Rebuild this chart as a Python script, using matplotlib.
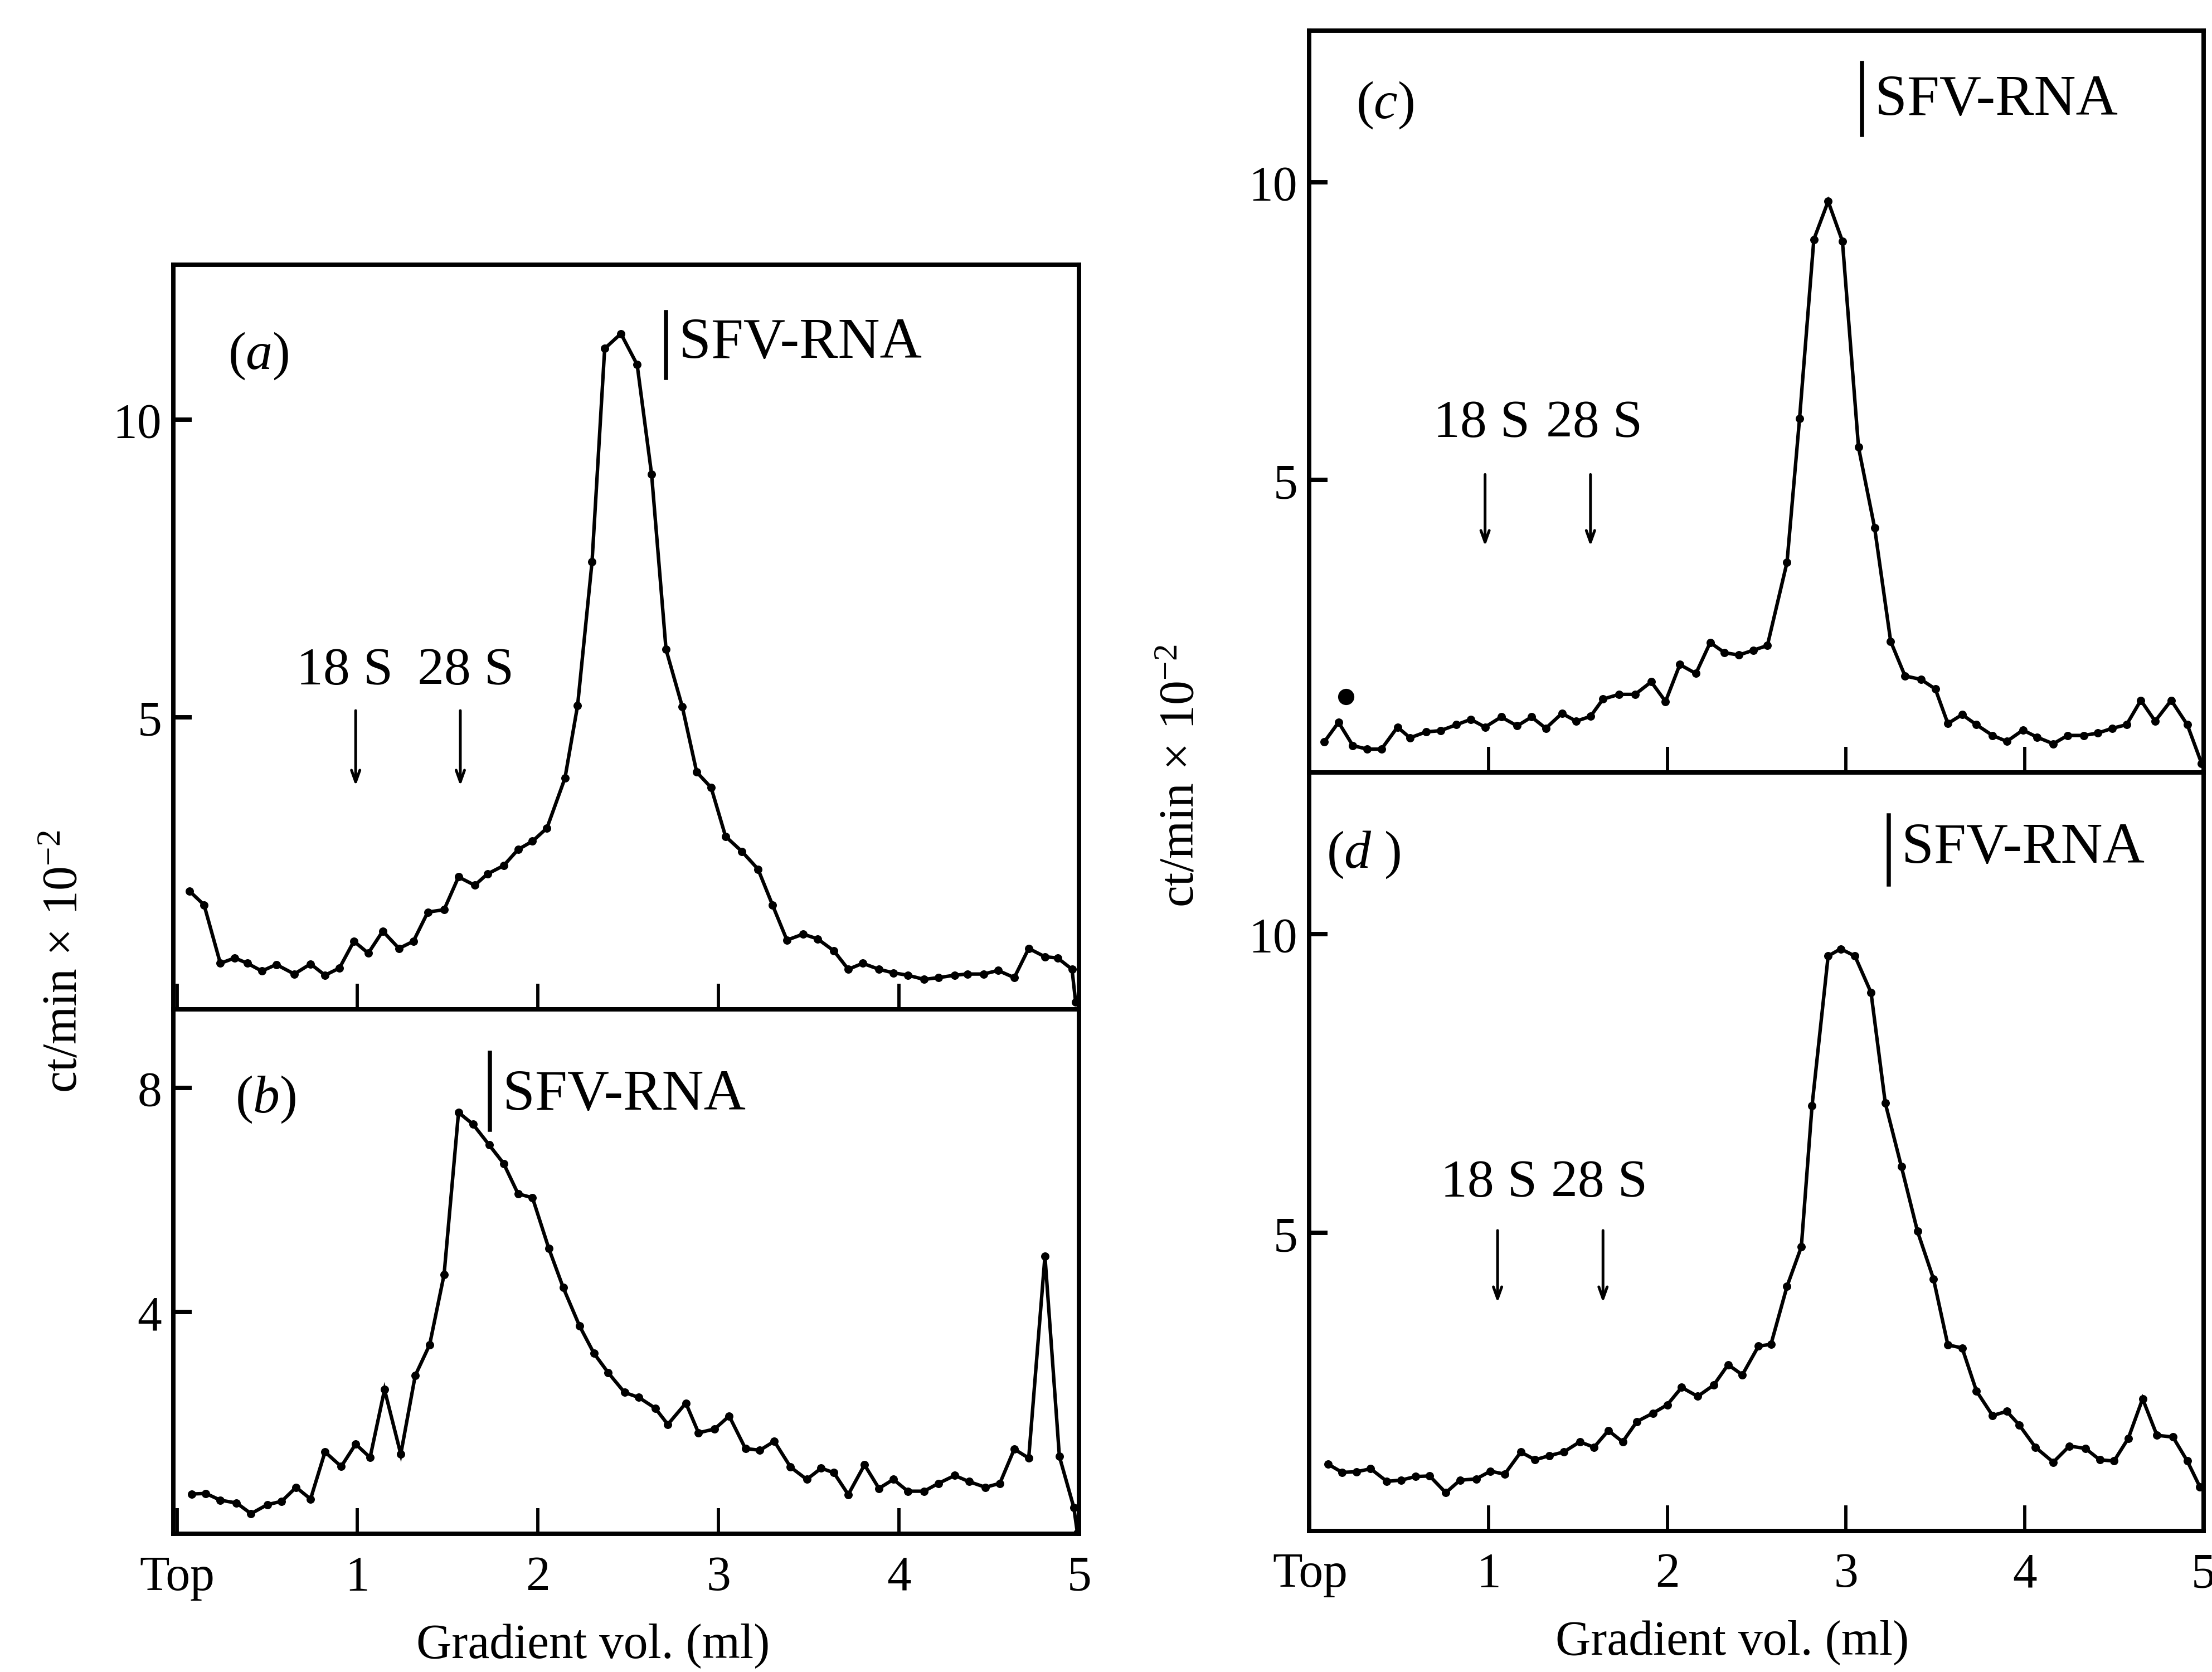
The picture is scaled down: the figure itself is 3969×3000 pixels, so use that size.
import matplotlib
matplotlib.use("Agg")
import matplotlib.pyplot as plt

plt.rcParams['font.family'] = ['Liberation Serif', 'DejaVu Serif']
plt.rcParams['mathtext.fontset'] = 'custom'
plt.rcParams['mathtext.rm'] = 'Liberation Serif'
plt.rcParams['mathtext.it'] = 'Liberation Serif:italic'

# ---------------- data ----------------
xa = [0.07, 0.15, 0.24, 0.32, 0.39, 0.47, 0.55, 0.65, 0.74, 0.82, 0.90, 0.98, 1.06, 1.14,
      1.23, 1.31, 1.39, 1.48, 1.56, 1.65, 1.72, 1.81, 1.89, 1.97, 2.05, 2.15, 2.22, 2.30,
      2.37, 2.46, 2.55, 2.63, 2.71, 2.80, 2.88, 2.96, 3.04, 3.13, 3.22, 3.30, 3.38, 3.47,
      3.55, 3.64, 3.72, 3.80, 3.89, 3.97, 4.05, 4.14, 4.22, 4.31, 4.38, 4.47, 4.55, 4.64,
      4.72, 4.81, 4.88, 4.96, 4.98]
ya = [2.08, 1.85, 0.87, 0.96, 0.87, 0.74, 0.85, 0.69, 0.86, 0.67, 0.79, 1.24, 1.04, 1.41,
      1.12, 1.24, 1.73, 1.77, 2.32, 2.18, 2.37, 2.51, 2.78, 2.92, 3.14, 3.98, 5.20, 7.61,
      11.19, 11.44, 10.92, 9.08, 6.14, 5.18, 4.08, 3.82, 3.00, 2.75, 2.45, 1.85, 1.26, 1.36,
      1.28, 1.08, 0.77, 0.87, 0.77, 0.71, 0.67, 0.60, 0.63, 0.67, 0.69, 0.69, 0.75, 0.63,
      1.12, 0.98, 0.96, 0.77, 0.22]

xb = [0.08, 0.16, 0.24, 0.33, 0.41, 0.50, 0.58, 0.66, 0.74, 0.82, 0.91, 0.99, 1.07, 1.15,
      1.24, 1.32, 1.40, 1.48, 1.56, 1.64, 1.73, 1.81, 1.89, 1.97, 2.06, 2.14, 2.23, 2.31,
      2.39, 2.48, 2.56, 2.65, 2.72, 2.82, 2.89, 2.98, 3.06, 3.15, 3.23, 3.31, 3.40, 3.49,
      3.57, 3.64, 3.72, 3.81, 3.89, 3.97, 4.05, 4.14, 4.22, 4.31, 4.39, 4.48, 4.56, 4.64,
      4.72, 4.81, 4.89, 4.97, 4.99]
yb = [0.76, 0.77, 0.65, 0.60, 0.41, 0.57, 0.63, 0.88, 0.67, 1.51, 1.25, 1.65, 1.41, 2.62,
      1.47, 2.87, 3.42, 4.67, 7.56, 7.35, 6.98, 6.65, 6.11, 6.04, 5.14, 4.44, 3.76, 3.27,
      2.92, 2.57, 2.48, 2.29, 2.00, 2.38, 1.85, 1.92, 2.15, 1.57, 1.54, 1.70, 1.24, 1.02,
      1.22, 1.14, 0.75, 1.28, 0.86, 1.02, 0.81, 0.81, 0.95, 1.09, 0.98, 0.88, 0.95, 1.56,
      1.40, 5.00, 1.43, 0.52, 0.06]

xc = [0.08, 0.16, 0.24, 0.32, 0.40, 0.49, 0.56, 0.65, 0.73, 0.82, 0.90, 0.98, 1.07, 1.16,
      1.24, 1.32, 1.41, 1.49, 1.57, 1.64, 1.73, 1.82, 1.91, 1.99, 2.07, 2.16, 2.24, 2.32,
      2.40, 2.48, 2.56, 2.67, 2.74, 2.82, 2.90, 2.98, 3.07, 3.16, 3.25, 3.33, 3.42, 3.50,
      3.57, 3.65, 3.73, 3.82, 3.90, 3.99, 4.07, 4.16, 4.24, 4.33, 4.41, 4.49, 4.57, 4.65,
      4.73, 4.82, 4.91, 4.99]
yc = [0.60, 0.93, 0.54, 0.48, 0.48, 0.85, 0.67, 0.77, 0.79, 0.89, 0.98, 0.85, 1.02, 0.87,
      1.02, 0.83, 1.08, 0.95, 1.03, 1.32, 1.40, 1.40, 1.61, 1.28, 1.90, 1.75, 2.27, 2.10,
      2.06, 2.14, 2.22, 3.62, 6.03, 9.04, 9.68, 9.01, 5.55, 4.20, 2.29, 1.71, 1.65, 1.49,
      0.91, 1.06, 0.89, 0.71, 0.61, 0.80, 0.68, 0.57, 0.71, 0.71, 0.75, 0.83, 0.89, 1.30,
      0.95, 1.30, 0.89, 0.24]
xc_dot = [0.20]
yc_dot = [1.36]

xd = [0.10, 0.18, 0.26, 0.34, 0.43, 0.51, 0.59, 0.67, 0.76, 0.84, 0.93, 1.01, 1.09, 1.18,
      1.26, 1.34, 1.42, 1.51, 1.59, 1.67, 1.75, 1.83, 1.92, 2.00, 2.08, 2.17, 2.26, 2.34,
      2.42, 2.51, 2.58, 2.67, 2.75, 2.81, 2.90, 2.97, 3.05, 3.14, 3.22, 3.31, 3.40, 3.49,
      3.57, 3.65, 3.73, 3.82, 3.90, 3.97, 4.06, 4.16, 4.25, 4.34, 4.42, 4.50, 4.58, 4.66,
      4.74, 4.83, 4.91, 4.98]
yd = [1.14, 1.00, 1.01, 1.06, 0.85, 0.87, 0.93, 0.94, 0.66, 0.87, 0.89, 1.02, 0.97, 1.34,
      1.21, 1.28, 1.34, 1.51, 1.42, 1.70, 1.51, 1.85, 1.99, 2.13, 2.42, 2.27, 2.46, 2.80,
      2.63, 3.11, 3.14, 4.11, 4.77, 7.13, 9.63, 9.75, 9.63, 9.02, 7.17, 6.11, 5.03, 4.23,
      3.13, 3.08, 2.36, 1.95, 2.02, 1.79, 1.42, 1.17, 1.44, 1.40, 1.21, 1.19, 1.57, 2.23,
      1.62, 1.59, 1.19, 0.76]

xtick_vals = [0, 1, 2, 3, 4, 5]
xtick_labels = ['Top', '1', '2', '3', '4', '5']

# ---------------- figure ----------------
fig = plt.figure(figsize=(13.23, 10.003), dpi=300)
fig.patch.set_facecolor('white')

ax_a = fig.add_axes([0.0784, 0.3963, 0.4095, 0.4452])
ax_b = fig.add_axes([0.0784, 0.0826, 0.4095, 0.3137])
ax_c = fig.add_axes([0.5918, 0.5379, 0.4043, 0.4436])
ax_d = fig.add_axes([0.5918, 0.0843, 0.4043, 0.4536])

TICK_FS = 21
ANN_FS = 23
SFV_FS = 25
LW = 1.5

def style(ax, xlim, ylim, yticks, show_xlabels):
    ax.set_xlim(*xlim)
    ax.set_ylim(*ylim)
    for s in ax.spines.values():
        s.set_linewidth(1.9)
        s.set_color('black')
    ax.set_yticks(yticks)
    ax.set_yticklabels([str(v) for v in yticks], fontsize=TICK_FS)
    ax.set_xticks(xtick_vals)
    if show_xlabels:
        ax.set_xticklabels(xtick_labels, fontsize=TICK_FS)
    else:
        ax.set_xticklabels([])
    ax.tick_params(axis='y', direction='in', length=8, width=1.9, pad=5)
    ax.tick_params(axis='x', direction='in', length=11, width=1.4, pad=9)

def curve(ax, x, y):
    ax.plot(x, y, color='black', lw=LW, marker='o', markersize=3.6,
            markerfacecolor='black', markeredgewidth=0, solid_joinstyle='miter')

def sfv(ax, xbar, y0, y1, ytext):
    ax.plot([xbar, xbar], [y0, y1], color='black', lw=1.8)
    ax.text(xbar + 0.07, ytext, 'SFV-RNA', fontsize=SFV_FS, va='center', ha='left')

def markers(ax, x18, x28, ytext, yarr0, yarr1, xa18, xa28):
    ax.text(x18, ytext, '18 S', fontsize=ANN_FS, ha='center', va='center')
    ax.text(x28, ytext, '28 S', fontsize=ANN_FS, ha='center', va='center')
    for xx in (xa18, xa28):
        ax.annotate('', xy=(xx, yarr1), xytext=(xx, yarr0),
                    arrowprops=dict(arrowstyle='->,head_length=0.5,head_width=0.18',
                                    color='black', lw=1.2))

# (a)
curve(ax_a, xa, ya)
style(ax_a, (-0.02, 5.0), (0.1, 12.6), [5, 10], False)
ax_a.text(0.45, 11.07, r'($\mathit{a}$)', fontsize=ANN_FS, ha='center', va='center')
sfv(ax_a, 2.71, 10.7, 11.8, 11.28)
markers(ax_a, 0.93, 1.60, 5.78, 5.19, 3.77, 0.99, 1.57)

# (b)
curve(ax_b, xb, yb)
style(ax_b, (-0.02, 5.0), (0.05, 9.4), [4, 8], True)
ax_b.text(0.49, 7.8, r'($\mathit{b}$)', fontsize=ANN_FS, ha='center', va='center')
sfv(ax_b, 1.735, 7.25, 8.62, 7.87)

# (c)
curve(ax_c, xc, yc)
ax_c.plot(xc_dot, yc_dot, 'o', color='black', markersize=6)
style(ax_c, (-0.005, 5.0), (0.09, 12.55), [5, 10], False)
ax_c.text(0.42, 11.3, r'($\mathit{c}$)', fontsize=ANN_FS, ha='center', va='center')
sfv(ax_c, 3.09, 10.8, 12.0, 11.38)
markers(ax_c, 0.96, 1.59, 5.95, 5.17, 3.81, 0.98, 1.57)

# (d)
curve(ax_d, xd, yd)
style(ax_d, (-0.005, 5.0), (0.02, 12.7), [5, 10], True)
ax_d.text(0.30, 11.33, r'($\mathit{d}$ )', fontsize=ANN_FS, ha='center', va='center')
sfv(ax_d, 3.24, 10.83, 11.98, 11.43)
markers(ax_d, 1.00, 1.62, 5.83, 5.12, 3.76, 1.05, 1.64)

# axis titles
ylab = r'ct/min$\,\times\,$10$^{-2}$'
fig.text(0.029, 0.425, ylab, rotation=90, fontsize=TICK_FS, ha='center', va='center')
fig.text(0.534, 0.536, ylab, rotation=90, fontsize=TICK_FS, ha='center', va='center')
fig.text(0.268, 0.016, 'Gradient vol. (ml)', fontsize=TICK_FS, ha='center', va='center')
fig.text(0.783, 0.018, 'Gradient vol. (ml)', fontsize=TICK_FS, ha='center', va='center')

fig.savefig('out.png', dpi=300, facecolor='white')
